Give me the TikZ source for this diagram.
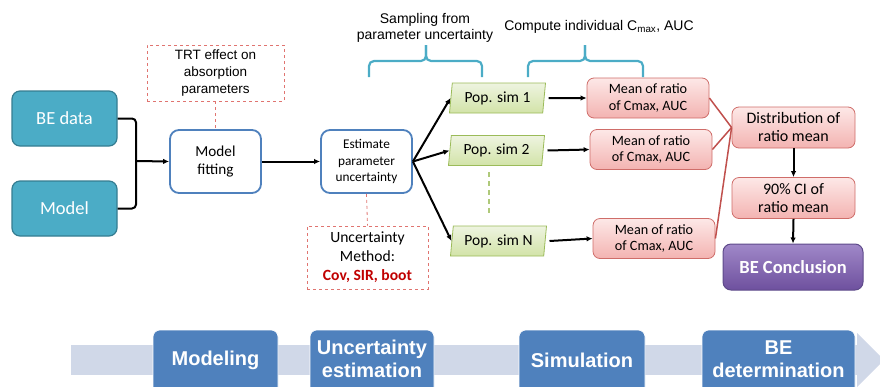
\documentclass[tikz,border=0pt]{standalone}
\usepackage{fontspec}
\setmainfont{Carlito}
\newfontfamily\arialf{Liberation Sans}
\usetikzlibrary{shapes.geometric,arrows.meta}
\definecolor{teal1}{HTML}{4BACC6}
\definecolor{teal2}{HTML}{357D91}
\definecolor{blue1}{HTML}{4F81BD}
\definecolor{dashred}{HTML}{E07470}
\definecolor{darkred}{HTML}{C00000}
\definecolor{grn1}{HTML}{EEF4E0}
\definecolor{grn2}{HTML}{D2E3A8}
\definecolor{grnb}{HTML}{9BBB59}
\definecolor{pink1}{HTML}{FDE8E7}
\definecolor{pink2}{HTML}{F3B3B1}
\definecolor{pinkb}{HTML}{CF6D69}
\definecolor{redl}{HTML}{C0504D}
\definecolor{purp1}{HTML}{A088C8}
\definecolor{purp2}{HTML}{6E509E}
\definecolor{purpb}{HTML}{5E4A8A}
\definecolor{band}{HTML}{D0D8E8}
\tikzset{
  tealbox/.style={draw=teal2, line width=1.2pt, fill=teal1, rounded corners=8pt,
    minimum width=105pt, minimum height=55pt, inner sep=0pt, text=white,
    font={\fontsize{18.5}{21}\selectfont}},
  whitebox/.style={draw=blue1, line width=1.8pt, fill=white, rounded corners=9pt,
    minimum width=91pt, minimum height=63pt, inner sep=0pt, align=center},
  dashbox/.style={draw=dashred, dashed, line width=0.8pt, inner sep=0pt, align=center},
  popbox/.style={trapezium, trapezium left angle=78, trapezium right angle=102,
    trapezium stretches body, draw=grnb, line width=0.8pt, top color=grn1, bottom color=grn2,
    minimum width=96pt, minimum height=30pt, inner sep=0pt,
    font={\fontsize{15.5}{18}\selectfont}},
  meanbox/.style={draw=pinkb, line width=0.8pt, top color=pink1, bottom color=pink2,
    rounded corners=7pt, minimum width=122pt, minimum height=40pt, inner sep=0pt, align=center,
    font={\fontsize{14.2}{16.5}\selectfont}},
  distbox/.style={meanbox, minimum width=123pt, minimum height=41pt,
    font={\fontsize{16}{18}\selectfont}},
  arr/.style={line width=2pt, -{Latex[length=6pt,width=5.5pt]}},
  redline/.style={draw=redl, line width=1.5pt},
  bracec/.style={draw=teal1, line width=2.2pt, rounded corners=5pt},
  stagebox/.style={draw=white, line width=0.6pt, fill=blue1, rounded corners=7pt},
  stagetext/.style={text=white, align=center, font={\arialf\bfseries\fontsize{20}{23}\selectfont}}
}
\begin{document}
\begin{tikzpicture}[x=1pt,y=-1pt]
\useasboundingbox (0,0) rectangle (880,386);
% left inputs
\node[tealbox] (bedata) at (64.5,118.5) {BE data};
\node[tealbox] (model) at (64.5,208.5) {Model};
\node[whitebox, font={\fontsize{15.2}{18}\selectfont}] (fit) at (215.5,161.5) {Model\\fitting};
\node[dashbox, minimum width=137pt, minimum height=56pt, font={\arialf\fontsize{13.5}{16.7}\selectfont}] (trt) at (215.5,73) {TRT effect on\\absorption\\parameters};
\coordinate (join) at (136,161);
\draw[line width=2pt, rounded corners=4pt] (bedata.east) -| (join);
\draw[line width=2pt, rounded corners=4pt] (model.east) -| (join);
\draw[arr] (join) -- (fit.west);
\draw[dashred, dashed, line width=0.8pt] (trt.south) -- (fit.north);
% uncertainty
\node[whitebox, font={\fontsize{13.3}{16.7}\selectfont}] (est) at (366.5,161.5) {Estimate\\parameter\\uncertainty};
\node[dashbox, minimum width=121pt, minimum height=63pt, font={\fontsize{15.6}{19}\selectfont}] (unc) at (367.5,257.5) {Uncertainty\\Method:\\\textcolor{darkred}{\bfseries Cov, SIR, boot}};
\draw[arr] (fit.east) -- (est.west);
\draw[dashred, dashed, line width=0.8pt] (est.south) -- (unc.north);
% pop sims
\node[popbox] (pop1) at (497.5,98) {Pop. sim 1};
\node[popbox] (pop2) at (496.5,150.5) {Pop. sim 2};
\node[popbox] (popN) at (498.5,241) {Pop. sim N};
\draw[arr] (est.east) -- (pop1.west);
\draw[arr] (est.east) -- (pop2.west);
\draw[arr] (est.east) -- (popN.west);
\coordinate (g1) at (489,172);
\coordinate (g2) at (489,216);
\draw[grnb!80, dashed, dash pattern=on 5pt off 4pt, line width=1.3pt] (g1) -- (g2);
% mean boxes
\node[meanbox] (mean1) at (648,98) {Mean of ratio\\of Cmax, AUC};
\node[meanbox] (mean2) at (651,149.5) {Mean of ratio\\of Cmax, AUC};
\node[meanbox] (mean3) at (654,238.5) {Mean of ratio\\of Cmax, AUC};
\draw[arr] ([xshift=4pt]pop1.east) -- (mean1.west);
\draw[arr] ([xshift=4pt]pop2.east) -- (mean2.west);
\draw[arr] ([xshift=4pt]popN.east) -- (mean3.west);
% right column
\node[distbox] (dist) at (793.5,127.5) {Distribution of\\ratio mean};
\node[distbox] (ci) at (793.5,198) {90\% CI of\\ratio mean};
\node[draw=purpb, line width=1pt, top color=purp1, bottom color=purp2, rounded corners=8pt,
  minimum width=140pt, minimum height=46pt, inner sep=0pt, text=white,
  font={\bfseries\fontsize{18.5}{21}\selectfont}] (bec) at (793,267) {BE Conclusion};
\draw[redline] (mean1.east) -- (dist.west);
\draw[redline] (mean2.east) -- (dist.west);
\draw[redline] (mean3.east) -- (dist.west);
\draw[arr] (dist.south) -- (ci.north);
\draw[arr] (ci.south) -- (bec.north);
% braces and captions
\draw[bracec] (369,77) |- (426,61) -- (426,45);
\draw[bracec] (482,77) |- (426,61) -- (426,45);
\draw[bracec] (528,77) |- (585,61) -- (585,45);
\draw[bracec] (643,77) |- (585,61) -- (585,45);
\node[align=center, font={\arialf\fontsize{14}{16}\selectfont}] (samp) at (425,28) {Sampling from\\parameter uncertainty};
\node[font={\arialf\fontsize{14}{16}\selectfont}] (comp) at (599,27) {Compute individual C\textsubscript{max}, AUC};
% bottom band
\fill[band] (71,345) rectangle (857,375);
\fill[band] (857,333) -- (884,360) -- (857,387) -- cycle;
\draw[stagebox] (153,330) rectangle (278,396);
\draw[stagebox] (310,330) rectangle (434,396);
\draw[stagebox] (519,330) rectangle (645,396);
\draw[stagebox] (702,330) rectangle (855,396);
\node[stagetext] (s1) at (215.5,360) {Modeling};
\node[stagetext] (s2) at (372,359) {Uncertainty\\estimation};
\node[stagetext] (s3) at (582,360) {Simulation};
\node[stagetext] (s4) at (778.5,359) {BE\\determination};
\end{tikzpicture}
\end{document}
